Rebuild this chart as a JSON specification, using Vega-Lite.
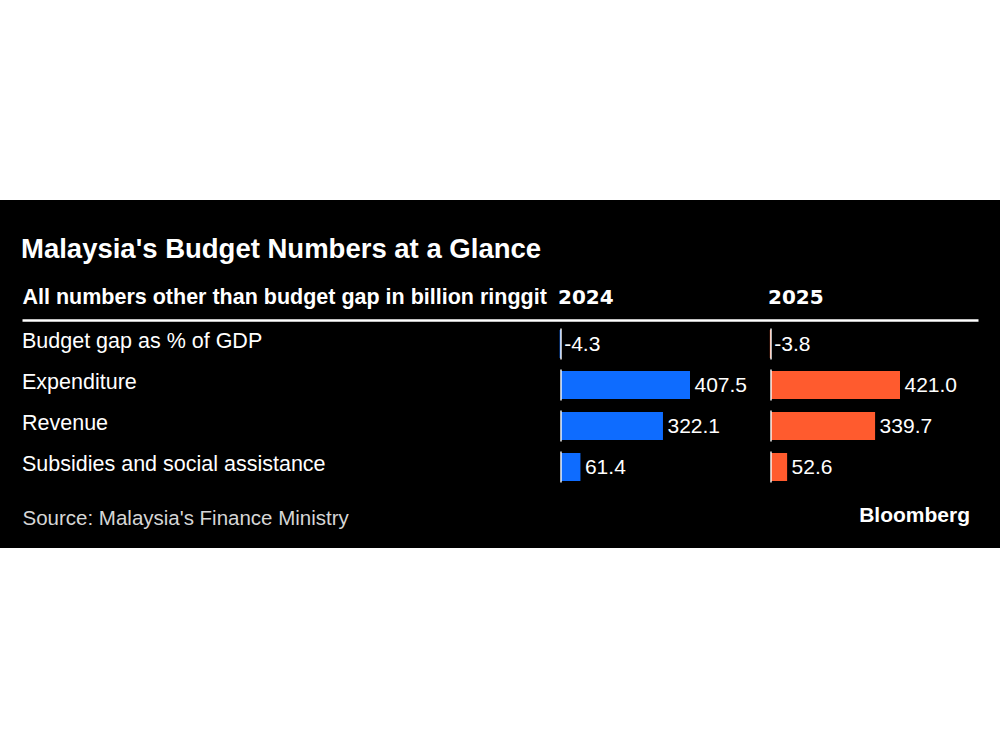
{
  "$schema": "https://vega.github.io/schema/vega-lite/v6.json",
  "width": 1000,
  "height": 348,
  "autosize": {"type": "none"},
  "padding": {"top": 200, "bottom": 202, "left": 0, "right": 0},
  "background": "white",
  "config": {
    "view": {"fill": "black", "stroke": null},
    "font": "Liberation Sans",
    "locale": {"number": {"decimal": ".", "thousands": ",", "grouping": [3], "currency": ["$", ""], "minus": "-"}}
  },
  "title": {
    "text": "Malaysia's Budget Numbers at a Glance",
    "anchor": "start",
    "frame": "group",
    "offset": -63,
    "dx": 21,
    "fontSize": 27.5,
    "fontWeight": "bold",
    "color": "white",
    "font": "Liberation Sans"
  },
  "data": {
    "values": [
      {"metric": "Budget gap as % of GDP", "year": 2024, "value": -4.3},
      {"metric": "Expenditure", "year": 2024, "value": 407.5},
      {"metric": "Revenue", "year": 2024, "value": 322.1},
      {"metric": "Subsidies and social assistance", "year": 2024, "value": 61.4},
      {"metric": "Budget gap as % of GDP", "year": 2025, "value": -3.8},
      {"metric": "Expenditure", "year": 2025, "value": 421.0},
      {"metric": "Revenue", "year": 2025, "value": 339.7},
      {"metric": "Subsidies and social assistance", "year": 2025, "value": 52.6}
    ]
  },
  "resolve": {
    "scale": {"x": "independent", "y": "independent"},
    "axis": {"x": "independent", "y": "independent"}
  },
  "layer": [
    {
      "transform": [{"filter": "datum.year == 2024"}],
      "mark": {"type": "text", "align": "left", "baseline": "middle", "fontSize": 21.5, "color": "white", "dy": -2.5, "font": "Liberation Sans"},
      "encoding": {
        "x": {
          "datum": 0,
          "type": "quantitative",
          "scale": {"domain": [0, 1], "range": [22, 978], "nice": false, "zero": false},
          "axis": {
            "orient": "top", "offset": -120, "domain": true, "domainColor": "white", "domainWidth": 2.5,
            "ticks": false, "labels": false, "grid": false,
            "title": "All numbers other than budget gap in billion ringgit",
            "titleAnchor": "start", "titleAlign": "left", "titleBaseline": "alphabetic", "titleY": -16.5,
            "titleColor": "white", "titleFontSize": 21.5, "titleFontWeight": "bold", "titleFont": "Liberation Sans"
          }
        },
        "y": {
          "field": "metric",
          "type": "nominal",
          "scale": {"domain": ["Budget gap as % of GDP", "Expenditure", "Revenue", "Subsidies and social assistance"], "range": [123.5, 287.5], "paddingInner": 0.317, "paddingOuter": 0.1585},
          "axis": {
            "orient": "left", "domain": false, "ticks": false, "labels": false, "grid": false,
            "title": "Source: Malaysia's Finance Ministry",
            "titleAngle": 0, "titleAlign": "left", "titleBaseline": "alphabetic", "titleX": 22, "titleY": 324,
            "titleColor": "#d6d6d6", "titleFontSize": 20.5, "titleFontWeight": "normal", "titleFont": "Liberation Sans"
          }
        },
        "text": {"field": "metric", "type": "nominal"}
      }
    },
    {
      "transform": [{"filter": "datum.year == 2024"}],
      "encoding": {
        "y": {
          "field": "metric",
          "type": "nominal",
          "scale": {"domain": ["Budget gap as % of GDP", "Expenditure", "Revenue", "Subsidies and social assistance"], "range": [123.5, 287.5], "paddingInner": 0.317, "paddingOuter": 0.1585},
          "axis": null
        }
      },
      "layer": [
        {
          "mark": {"type": "bar", "color": "#0e6cff"},
          "encoding": {
            "x": {
              "field": "value", "type": "quantitative",
              "scale": {"domain": [0, 407.5], "range": [561, 690], "nice": false, "zero": false},
              "axis": {"orient": "top", "offset": -120, "domain": false, "ticks": false, "labels": false, "grid": false, "title": "2024", "titleAnchor": "start", "titleAlign": "left", "titleBaseline": "alphabetic", "titleX": 557.5, "titleY": -16.5, "titleColor": "white", "titleFontSize": 20, "titleFontWeight": "bold", "titleFont": "DejaVu Sans"}
            }
          }
        },
        {
          "mark": {"type": "tick", "color": "white", "thickness": 2, "size": 31, "orient": "vertical"},
          "encoding": {
            "x": {
              "datum": 0, "type": "quantitative",
              "axis": {"orient": "top", "offset": -120, "domain": false, "ticks": false, "labels": false, "grid": false, "title": "2024", "titleAnchor": "start", "titleAlign": "left", "titleBaseline": "alphabetic", "titleX": 557.5, "titleY": -16.5, "titleColor": "white", "titleFontSize": 20, "titleFontWeight": "bold", "titleFont": "DejaVu Sans"}
            }
          }
        },
        {
          "mark": {"type": "text", "align": "left", "baseline": "middle", "fontSize": 21, "color": "white", "dx": 4.5, "dy": 0.5, "font": "Liberation Sans"},
          "encoding": {
            "x": {
              "field": "value", "type": "quantitative",
              "axis": {"orient": "top", "offset": -120, "domain": false, "ticks": false, "labels": false, "grid": false, "title": "2024", "titleAnchor": "start", "titleAlign": "left", "titleBaseline": "alphabetic", "titleX": 557.5, "titleY": -16.5, "titleColor": "white", "titleFontSize": 20, "titleFontWeight": "bold", "titleFont": "DejaVu Sans"}
            },
            "text": {"field": "value", "type": "quantitative", "format": ".1f"}
          }
        }
      ]
    },
    {
      "transform": [{"filter": "datum.year == 2025"}],
      "encoding": {
        "y": {
          "field": "metric",
          "type": "nominal",
          "scale": {"domain": ["Budget gap as % of GDP", "Expenditure", "Revenue", "Subsidies and social assistance"], "range": [123.5, 287.5], "paddingInner": 0.317, "paddingOuter": 0.1585},
          "axis": {
            "orient": "right", "domain": false, "ticks": false, "labels": false, "grid": false,
            "title": "Bloomberg",
            "titleAngle": 0, "titleAlign": "right", "titleBaseline": "alphabetic", "titleX": -30.5, "titleY": 321.7,
            "titleColor": "white", "titleFontSize": 21, "titleFontWeight": "bold", "titleFont": "Liberation Sans"
          }
        }
      },
      "layer": [
        {
          "mark": {"type": "bar", "color": "#ff5b2e"},
          "encoding": {
            "x": {
              "field": "value", "type": "quantitative",
              "scale": {"domain": [0, 421], "range": [771, 900], "nice": false, "zero": false},
              "axis": {"orient": "top", "offset": -120, "domain": false, "ticks": false, "labels": false, "grid": false, "title": "2025", "titleAnchor": "start", "titleAlign": "left", "titleBaseline": "alphabetic", "titleX": 767.5, "titleY": -16.5, "titleColor": "white", "titleFontSize": 20, "titleFontWeight": "bold", "titleFont": "DejaVu Sans"}
            }
          }
        },
        {
          "mark": {"type": "tick", "color": "white", "thickness": 2, "size": 31, "orient": "vertical"},
          "encoding": {
            "x": {
              "datum": 0, "type": "quantitative",
              "axis": {"orient": "top", "offset": -120, "domain": false, "ticks": false, "labels": false, "grid": false, "title": "2025", "titleAnchor": "start", "titleAlign": "left", "titleBaseline": "alphabetic", "titleX": 767.5, "titleY": -16.5, "titleColor": "white", "titleFontSize": 20, "titleFontWeight": "bold", "titleFont": "DejaVu Sans"}
            }
          }
        },
        {
          "mark": {"type": "text", "align": "left", "baseline": "middle", "fontSize": 21, "color": "white", "dx": 4.5, "dy": 0.5, "font": "Liberation Sans"},
          "encoding": {
            "x": {
              "field": "value", "type": "quantitative",
              "axis": {"orient": "top", "offset": -120, "domain": false, "ticks": false, "labels": false, "grid": false, "title": "2025", "titleAnchor": "start", "titleAlign": "left", "titleBaseline": "alphabetic", "titleX": 767.5, "titleY": -16.5, "titleColor": "white", "titleFontSize": 20, "titleFontWeight": "bold", "titleFont": "DejaVu Sans"}
            },
            "text": {"field": "value", "type": "quantitative", "format": ".1f"}
          }
        }
      ]
    }
  ]
}
